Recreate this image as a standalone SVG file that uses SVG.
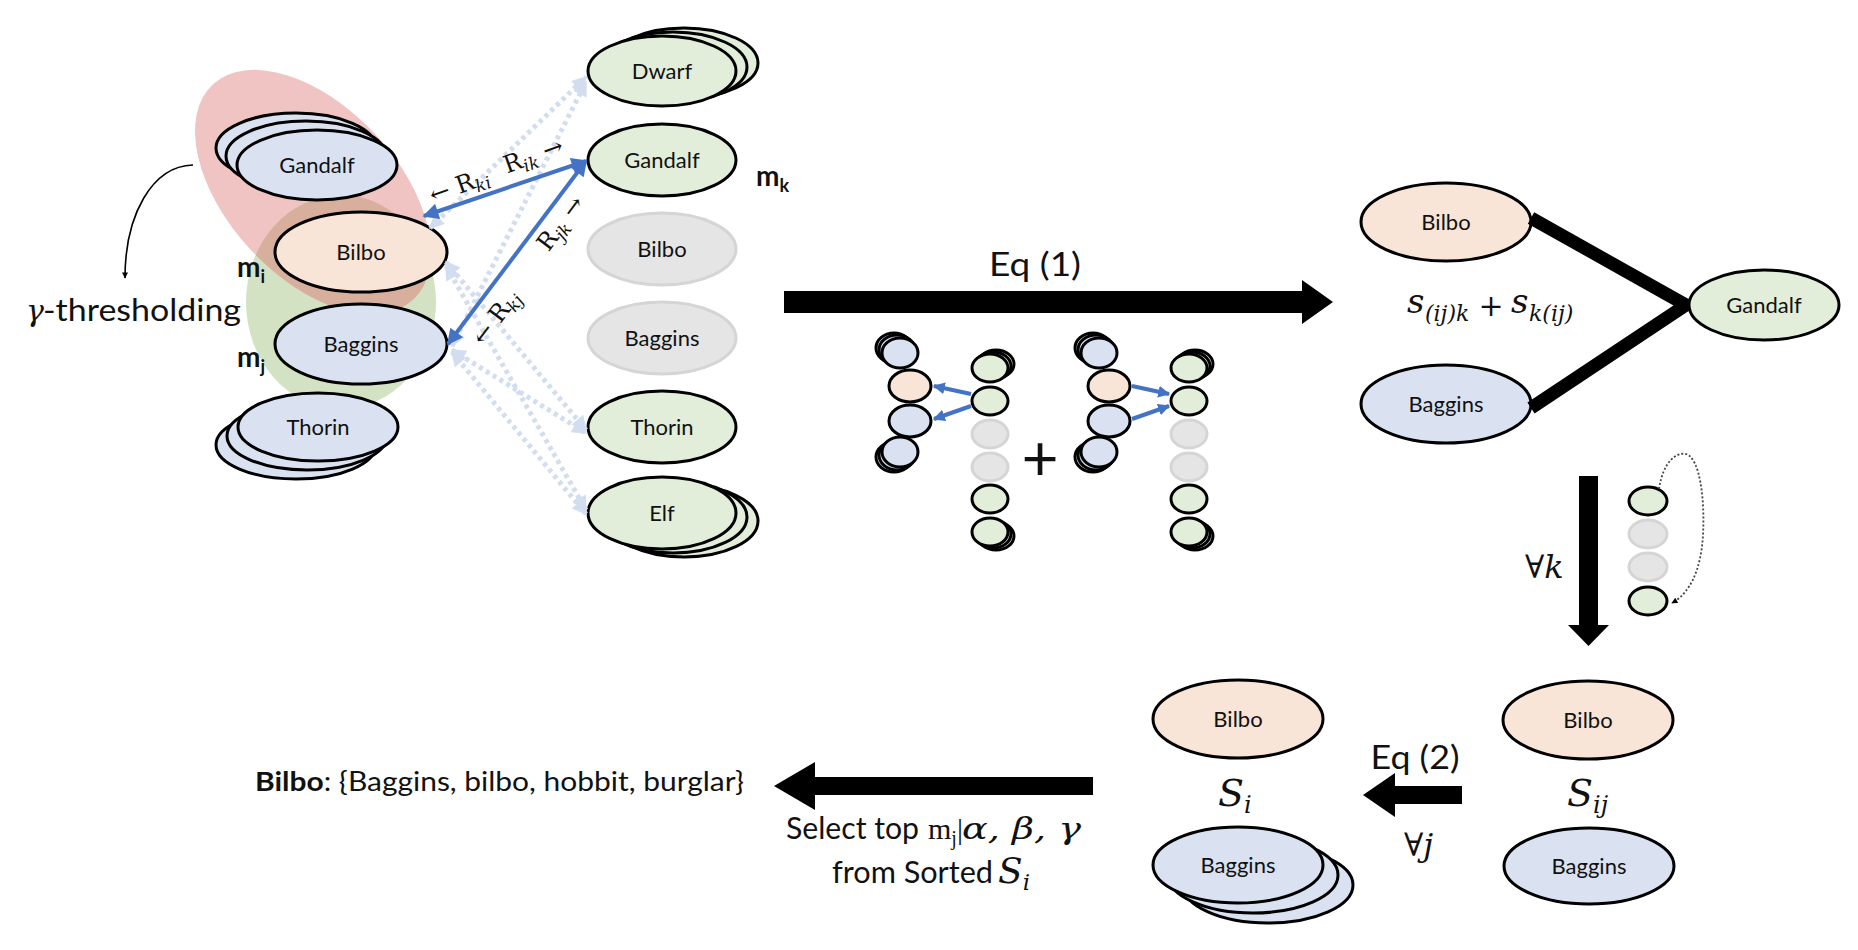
<svg xmlns="http://www.w3.org/2000/svg" width="1858" height="950" viewBox="0 0 1858 950">
<style>
.n{stroke:#000;stroke-width:3}
.blue{fill:#DAE2F2}
.green{fill:#E3EEDA}
.peach{fill:#F8E5D7}
.gray{fill:#E5E5E5;stroke:#D5D5D5;stroke-width:3}
.m{stroke:#000;stroke-width:3}
.lbl{font-family:Lato,"Liberation Sans",sans-serif;font-size:22px;text-anchor:middle;fill:#111}
.cal{font-family:Lato,"Liberation Sans",sans-serif;fill:#111}
.it{font-family:"DejaVu Serif","Liberation Serif",serif;font-style:italic;fill:#111}
.rm{font-family:"Liberation Serif","DejaVu Serif",serif;fill:#111}
.dv{font-family:"DejaVu Serif","Liberation Serif",serif;fill:#111}
.bold{font-family:Lato,"Liberation Sans",sans-serif;font-weight:bold;fill:#111}
.faint{fill:none;stroke:#D3DDF0;stroke-width:5;stroke-dasharray:4 4}
.solid{fill:none;stroke:#4472C4;stroke-width:4}
.mini{fill:none;stroke:#4472C4;stroke-width:4}
</style>
<defs>
<marker id="fa" viewBox="0 0 10 10" refX="9" refY="5" markerWidth="3.4" markerHeight="3" orient="auto-start-reverse"><path d="M0,0 L10,5 L0,10 z" fill="#D3DDF0"/></marker>
<marker id="sa" viewBox="0 0 10 10" refX="9" refY="5" markerWidth="4.5" markerHeight="4" orient="auto-start-reverse"><path d="M0,0 L10,5 L0,10 z" fill="#4472C4"/></marker>
<marker id="ma" viewBox="0 0 10 10" refX="9" refY="5" markerWidth="3" markerHeight="3" orient="auto-start-reverse"><path d="M0,0 L10,5 L0,10 z" fill="#4472C4"/></marker>
<marker id="da" viewBox="0 0 10 10" refX="9" refY="5" markerWidth="7" markerHeight="6" markerUnits="userSpaceOnUse" orient="auto"><path d="M0,0 L10,5 L0,10 z" fill="#000"/></marker>
<clipPath id="clipGreen"><ellipse cx="341" cy="302" rx="95" ry="107"/></clipPath>
</defs>
<rect width="1858" height="950" fill="#fff"/>

<!-- background groupings -->
<g id="groups">
<ellipse cx="341" cy="302" rx="95" ry="107" fill="#D3E2C3"/>
<ellipse cx="313" cy="192" rx="147" ry="85" transform="rotate(47 313 192)" fill="#F1C4C4"/>
<g clip-path="url(#clipGreen)"><ellipse cx="313" cy="192" rx="147" ry="85" transform="rotate(47 313 192)" fill="#D8AF9C"/></g>
</g>

<!-- left nodes (i, j) -->
<g id="node-left-gandalf">
<ellipse class="n blue" cx="296" cy="148" rx="80" ry="35"/>
<ellipse class="n blue" cx="306" cy="156" rx="80" ry="35"/>
<ellipse class="n blue" cx="317" cy="165" rx="80" ry="35"/>
<text class="lbl" x="317" y="173">Gandalf</text>
</g>
<g id="node-left-bilbo">
<ellipse class="n peach" cx="361" cy="252" rx="86" ry="40"/>
<text class="lbl" x="361" y="260">Bilbo</text>
</g>
<g id="node-left-baggins">
<ellipse class="n blue" cx="361" cy="344" rx="86" ry="40"/>
<text class="lbl" x="361" y="352">Baggins</text>
</g>
<g id="node-left-thorin">
<ellipse class="n blue" cx="296" cy="445" rx="80" ry="34"/>
<ellipse class="n blue" cx="307" cy="436" rx="80" ry="34"/>
<ellipse class="n blue" cx="318" cy="427" rx="80" ry="34"/>
<text class="lbl" x="318" y="435">Thorin</text>
</g>
<g id="labels-left">
<text class="bold" x="237" y="277" font-size="28">m<tspan font-size="18" dy="6">i</tspan></text>
<text class="bold" x="237" y="367" font-size="28">m<tspan font-size="18" dy="6">j</tspan></text>
<text x="26" y="321"><tspan class="it" font-size="30">γ</tspan></text>
<text class="cal" x="43" y="321" font-size="30" textLength="198" lengthAdjust="spacingAndGlyphs">-thresholding</text>
</g>

<!-- k column -->
<g id="node-k-dwarf">
<ellipse class="n green" cx="684" cy="63" rx="74" ry="35"/>
<ellipse class="n green" cx="673" cy="67" rx="74" ry="35"/>
<ellipse class="n green" cx="662" cy="71" rx="74" ry="35"/>
<text class="lbl" x="662" y="79">Dwarf</text>
</g>
<g id="node-k-gandalf">
<ellipse class="n green" cx="662" cy="160" rx="74" ry="36"/>
<text class="lbl" x="662" y="168">Gandalf</text>
</g>
<g id="node-k-bilbo">
<ellipse class="gray" cx="662" cy="249" rx="74" ry="36"/>
<text class="lbl" x="662" y="257">Bilbo</text>
</g>
<g id="node-k-baggins">
<ellipse class="gray" cx="662" cy="338" rx="74" ry="36"/>
<text class="lbl" x="662" y="346">Baggins</text>
</g>
<g id="node-k-thorin">
<ellipse class="n green" cx="662" cy="427" rx="74" ry="36"/>
<text class="lbl" x="662" y="435">Thorin</text>
</g>
<g id="node-k-elf">
<ellipse class="n green" cx="684" cy="521" rx="74" ry="36"/>
<ellipse class="n green" cx="673" cy="517" rx="74" ry="36"/>
<ellipse class="n green" cx="662" cy="513" rx="74" ry="36"/>
<text class="lbl" x="662" y="521">Elf</text>
</g>
<text class="bold" x="756" y="186" font-size="28">m<tspan font-size="18" dy="6">k</tspan></text>

<!-- mini diagram 1 -->
<g id="mini-1">
<ellipse class="m blue" cx="894" cy="348" rx="18" ry="15"/>
<ellipse class="m blue" cx="897" cy="350" rx="18" ry="15"/>
<ellipse class="m blue" cx="900" cy="353" rx="18" ry="15"/>
<ellipse class="m peach" cx="910" cy="386" rx="21" ry="16"/>
<ellipse class="m blue" cx="910" cy="421" rx="21" ry="16"/>
<ellipse class="m blue" cx="894" cy="457" rx="18" ry="15"/>
<ellipse class="m blue" cx="897" cy="455" rx="18" ry="15"/>
<ellipse class="m blue" cx="900" cy="452" rx="18" ry="15"/>
<ellipse class="m green" cx="996" cy="364" rx="18" ry="14"/>
<ellipse class="m green" cx="993" cy="366" rx="18" ry="14"/>
<ellipse class="m green" cx="990" cy="368" rx="18" ry="14"/>
<ellipse class="m green" cx="990" cy="401" rx="18" ry="14"/>
<ellipse class="gray" cx="990" cy="434" rx="18" ry="14"/>
<ellipse class="gray" cx="990" cy="467" rx="18" ry="14"/>
<ellipse class="m green" cx="990" cy="499" rx="18" ry="14"/>
<ellipse class="m green" cx="996" cy="536" rx="18" ry="14"/>
<ellipse class="m green" cx="993" cy="534" rx="18" ry="14"/>
<ellipse class="m green" cx="990" cy="532" rx="18" ry="14"/>
</g>
<text class="cal" x="1040" y="481" font-size="64" text-anchor="middle">+</text>
<!-- mini diagram 2 -->
<g id="mini-2" transform="translate(199,0)">
<ellipse class="m blue" cx="894" cy="348" rx="18" ry="15"/>
<ellipse class="m blue" cx="897" cy="350" rx="18" ry="15"/>
<ellipse class="m blue" cx="900" cy="353" rx="18" ry="15"/>
<ellipse class="m peach" cx="910" cy="386" rx="21" ry="16"/>
<ellipse class="m blue" cx="910" cy="421" rx="21" ry="16"/>
<ellipse class="m blue" cx="894" cy="457" rx="18" ry="15"/>
<ellipse class="m blue" cx="897" cy="455" rx="18" ry="15"/>
<ellipse class="m blue" cx="900" cy="452" rx="18" ry="15"/>
<ellipse class="m green" cx="996" cy="364" rx="18" ry="14"/>
<ellipse class="m green" cx="993" cy="366" rx="18" ry="14"/>
<ellipse class="m green" cx="990" cy="368" rx="18" ry="14"/>
<ellipse class="m green" cx="990" cy="401" rx="18" ry="14"/>
<ellipse class="gray" cx="990" cy="434" rx="18" ry="14"/>
<ellipse class="gray" cx="990" cy="467" rx="18" ry="14"/>
<ellipse class="m green" cx="990" cy="499" rx="18" ry="14"/>
<ellipse class="m green" cx="996" cy="536" rx="18" ry="14"/>
<ellipse class="m green" cx="993" cy="534" rx="18" ry="14"/>
<ellipse class="m green" cx="990" cy="532" rx="18" ry="14"/>
</g>

<!-- top right cluster -->
<g id="node-tr-bilbo">
<ellipse class="n peach" cx="1446" cy="222" rx="85" ry="39"/>
<text class="lbl" x="1446" y="230">Bilbo</text>
</g>
<g id="node-tr-baggins">
<ellipse class="n blue" cx="1446" cy="404" rx="85" ry="39"/>
<text class="lbl" x="1446" y="412">Baggins</text>
</g>

<!-- mini column right -->
<g id="mini-k">
<ellipse class="m green" cx="1648" cy="501" rx="19" ry="14"/>
<ellipse class="gray" cx="1648" cy="534" rx="19" ry="14"/>
<ellipse class="gray" cx="1648" cy="567" rx="19" ry="14"/>
<ellipse class="m green" cx="1648" cy="601" rx="19" ry="14"/>
</g>

<!-- bottom nodes -->
<g id="node-sij-bilbo">
<ellipse class="n peach" cx="1588" cy="720" rx="85" ry="39"/>
<text class="lbl" x="1588" y="728">Bilbo</text>
</g>
<g id="node-sij-baggins">
<ellipse class="n blue" cx="1589" cy="866" rx="85" ry="38"/>
<text class="lbl" x="1589" y="874">Baggins</text>
</g>
<g id="node-si-bilbo">
<ellipse class="n peach" cx="1238" cy="719" rx="85" ry="39"/>
<text class="lbl" x="1238" y="727">Bilbo</text>
</g>
<g id="node-si-baggins">
<ellipse class="n blue" cx="1268" cy="885" rx="85" ry="38"/>
<ellipse class="n blue" cx="1253" cy="875" rx="85" ry="38"/>
<ellipse class="n blue" cx="1238" cy="865" rx="85" ry="38"/>
<text class="lbl" x="1238" y="873">Baggins</text>
</g>

<!-- connectors -->
<g id="connectors">
<path class="faint" d="M430,228 L586,77" marker-start="url(#fa)" marker-end="url(#fa)"/>
<path class="faint" d="M452,346 L586,82" marker-start="url(#fa)" marker-end="url(#fa)"/>
<path class="faint" d="M446,262 L586,430" marker-start="url(#fa)" marker-end="url(#fa)"/>
<path class="faint" d="M446,266 L586,510" marker-start="url(#fa)" marker-end="url(#fa)"/>
<path class="faint" d="M452,350 L586,433" marker-start="url(#fa)" marker-end="url(#fa)"/>
<path class="faint" d="M452,352 L586,514" marker-start="url(#fa)" marker-end="url(#fa)"/>
<path class="solid" d="M424,216 L586,161" marker-start="url(#sa)" marker-end="url(#sa)"/>
<path class="solid" d="M448,344 L586,161" marker-start="url(#sa)" marker-end="url(#sa)"/>
<path class="mini" d="M971,394 L934,386" marker-end="url(#ma)"/>
<path class="mini" d="M971,406 L934,419" marker-end="url(#ma)"/>
<path class="mini" d="M1132,386 L1169,394" marker-end="url(#ma)"/>
<path class="mini" d="M1132,419 L1169,406" marker-end="url(#ma)"/>
<polyline points="1531,218 1686,305 1531,408" fill="none" stroke="#000" stroke-width="13" stroke-linejoin="miter"/>
<path d="M1659,489 C1663,462 1676,452 1686,454 C1700,458 1705,500 1703,535 C1701,570 1690,593 1672,603" fill="none" stroke="#444" stroke-width="1.8" stroke-dasharray="2 2" marker-end="url(#da)"/>
<polygon points="784,291 1302,291 1302,280 1333,302 1302,324 1302,313 784,313" fill="#000"/>
<polygon points="1579,476 1598,476 1598,625 1609,625 1588.5,646 1568,625 1579,625" fill="#000"/>
<polygon points="1462,786 1395,786 1395,773 1363,795 1395,817 1395,804 1462,804" fill="#000"/>
<polygon points="1093,777 815,777 815,762 774,786 815,810 815,795 1093,795" fill="#000"/>
<path d="M193,165 C152,166 125,215 125,278" fill="none" stroke="#000" stroke-width="1.6" marker-end="url(#da)"/>
</g>

<g id="node-tr-gandalf">
<ellipse class="n green" cx="1764" cy="305" rx="75" ry="35"/>
<text class="lbl" x="1764" y="313">Gandalf</text>
</g>

<!-- relation labels -->
<g id="rel-labels" class="dv" font-size="24">
<text transform="translate(462,193) rotate(-20)" text-anchor="middle">← R<tspan class="it" font-size="17" dy="5">ki</tspan></text>
<text transform="translate(536,163) rotate(-20)" text-anchor="middle">R<tspan class="it" font-size="17" dy="5">ik</tspan><tspan dy="-5"> →</tspan></text>
<text transform="translate(567,228) rotate(-53)" text-anchor="middle">R<tspan class="it" font-size="17" dy="5">jk</tspan><tspan dy="-5"> →</tspan></text>
<text transform="translate(502,322) rotate(-53)" text-anchor="middle">← R<tspan class="it" font-size="17" dy="5">kj</tspan></text>
</g>

<!-- other labels -->
<g id="texts">
<text class="cal" x="1035" y="276" font-size="32" text-anchor="middle" textLength="92" lengthAdjust="spacingAndGlyphs">Eq (1)</text>
<text class="it" x="1407" y="313" font-size="34">s</text>
<text class="it" x="1425" y="321" font-size="22">(ij)k</text>
<text class="dv" x="1491" y="316" font-size="30" text-anchor="middle">+</text>
<text class="it" x="1511" y="313" font-size="34">s</text>
<text class="it" x="1529" y="321" font-size="22">k(ij)</text>
<text class="dv" x="1525" y="578" font-size="32">∀<tspan class="it">k</tspan></text>
<text class="cal" x="1415" y="769" font-size="32" text-anchor="middle" textLength="89" lengthAdjust="spacingAndGlyphs">Eq (2)</text>
<text class="dv" x="1404" y="856" font-size="32">∀<tspan class="it">j</tspan></text>
<text class="it" x="1567" y="806" font-size="38">S<tspan font-size="24" dy="7">ij</tspan></text>
<text class="it" x="1218" y="806" font-size="38">S<tspan font-size="24" dy="7">i</tspan></text>
<text class="cal" x="255" y="791" font-size="27" textLength="489" lengthAdjust="spacingAndGlyphs"><tspan font-weight="bold">Bilbo</tspan>: {Baggins, bilbo, hobbit, burglar}</text>
<text class="cal" x="786" y="839" font-size="30" textLength="133" lengthAdjust="spacingAndGlyphs">Select top</text>
<text class="rm" x="928" y="839" font-size="30">m<tspan font-size="20" dy="6">j</tspan><tspan dy="-6">|</tspan></text>
<text class="it" x="962" y="839" font-size="30" textLength="119" lengthAdjust="spacingAndGlyphs">α, β, γ</text>
<text class="cal" x="832" y="883" font-size="30" textLength="161" lengthAdjust="spacingAndGlyphs">from Sorted</text>
<text class="it" x="998" y="883" font-size="36">S<tspan font-size="23" dy="7">i</tspan></text>
</g>
</svg>
